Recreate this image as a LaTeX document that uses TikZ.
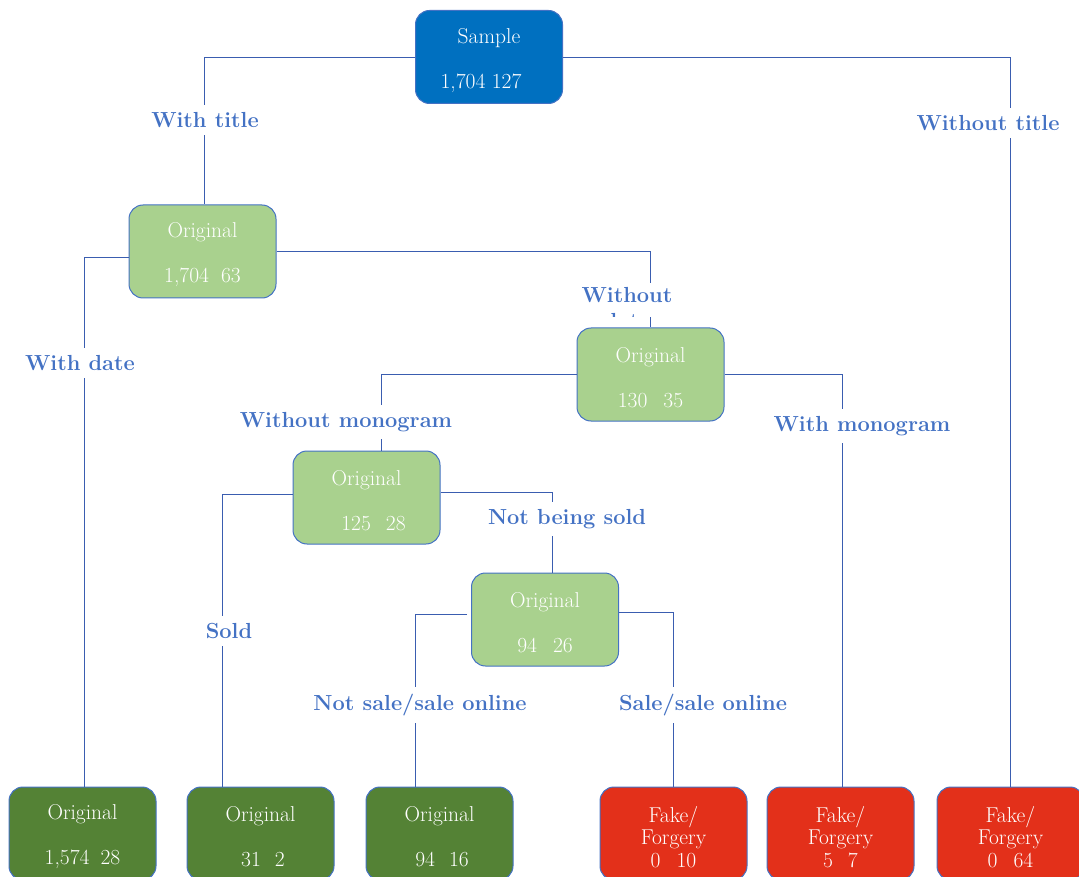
\documentclass[tikz,border=0pt]{standalone}
\usetikzlibrary{positioning}
\definecolor{rootblue}{HTML}{0070C0}
\definecolor{lightgreen}{HTML}{A9D18E}
\definecolor{darkgreen}{HTML}{548235}
\definecolor{fakered}{HTML}{E3301A}
\definecolor{edgeblue}{HTML}{4472C4}
\definecolor{linkblue}{HTML}{3A5DB0}
\definecolor{labelblue}{HTML}{4472C4}
\begin{document}
\begin{tikzpicture}[x=1pt,y=-1pt,
  box/.style={draw=edgeblue,line width=1pt,rounded corners=14pt,
    minimum width=147pt,minimum height=93pt,inner sep=0pt},
  boxtext/.style={text=white,align=center,inner sep=0pt,yshift=-3.5pt,
    font=\fontsize{21.5}{26}\selectfont},
  rootbox/.style={box,fill=rootblue},
  midbox/.style={box,fill=lightgreen},
  leafbox/.style={box,fill=darkgreen},
  fakebox/.style={box,fill=fakered},
  link/.style={draw=linkblue,line width=0.9pt},
  lab/.style={fill=white,text=labelblue,inner xsep=3pt,inner ysep=7pt,
    font=\bfseries\fontsize{21.8}{26}\selectfont}]
\useasboundingbox (0,0) rectangle (1079,877);
\clip (0,0) rectangle (1079,877);

% decision nodes
\node[rootbox] (s)  at (489,57)      {};
\node[midbox]  (o1) at (202.5,251.5) {};
\node[midbox]  (o2) at (650.5,374.5) {};
\node[midbox]  (o3) at (366.5,497.5) {};
\node[midbox]  (o4) at (545,619.5)   {};

% leaves
\node[leafbox] (b1) at (82.5,833.5)   {};
\node[leafbox] (b2) at (260.5,833.5)  {};
\node[leafbox] (b3) at (439.5,833.5)  {};
\node[fakebox] (f1) at (673.5,833.5)  {};
\node[fakebox] (f2) at (840.5,833.5)  {};
\node[fakebox] (f3) at (1010.5,833.5) {};

% box contents
\node[boxtext] (ts)  at (s)  {Sample\\[19pt]1,704 127\hspace*{16pt}};
\node[boxtext] (to1) at (o1) {Original\\[19pt]1,704\hspace{12pt}63};
\node[boxtext] (to2) at (o2) {Original\\[19pt]130\hspace{16pt}35};
\node[boxtext] (to3) at (o3) {Original\\[19pt]\hspace*{14pt}125\hspace{15pt}28};
\node[boxtext] (to4) at (o4) {Original\\[19pt]94\hspace{16pt}26};
\node[boxtext] (tb1) at (b1) {Original\\[19pt]1,574\hspace{11pt}28};
\node[boxtext] (tb2) at (b2) {Original\\[19pt]\hspace*{5pt}31\hspace{14pt}2};
\node[boxtext] (tb3) at (b3) {Original\\[19pt]\hspace*{5pt}94\hspace{14pt}16};
\node[boxtext,font=\fontsize{21.5}{22.5}\selectfont] (tf1) at (f1) {Fake/\\Forgery\\0\hspace{16pt}10};
\node[boxtext,font=\fontsize{21.5}{22.5}\selectfont] (tf2) at (f2) {Fake/\\Forgery\\5\hspace{15pt}7};
\node[boxtext,font=\fontsize{21.5}{22.5}\selectfont] (tf3) at (f3) {Fake/\\Forgery\\0\hspace{16pt}64};

% connectors
\path[link] (s.west) -| ([xshift=1.5pt]o1.north);
\path[link] (s.east) -| (f3.north);
\path[link] ([yshift=-5.5pt]o1.west) -| ([xshift=1.5pt]b1.north);
\path[link] (o1.east) -| (o2.north);
\path[link] (o2.west) -| ([xshift=14.5pt]o3.north);
\path[link] (o2.east) -| ([xshift=1.5pt]f2.north);
\path[link] ([yshift=3.5pt]o3.west) -| ([xshift=-38.5pt]b2.north);
\path[link] ([yshift=5.5pt]o3.east) -| ([xshift=7pt]o4.north);
\path[link] ([yshift=5.5pt,xshift=-4pt]o4.west) -| ([xshift=-24.5pt]b3.north);
\path[link] ([yshift=7.5pt]o4.east) -| (f1.north);

% branch labels
\node[lab] (l1) at (205,120)  {With title};
\node[lab] (l2) at (988,123)  {Without title};
\node[lab] (l3) at (80,363)   {With date};
\node[lab] (l5) at (346,422)  {Without monogram};
\node[lab] (l6) at (862,426)  {With monogram};
\node[lab] (l7) at (229,631)  {Sold};
\node[lab] (l8) at (567,519)  {Not being sold};
\node[lab] (l9) at (420,705)  {Not sale/sale online};
\node[lab] (l10) at (703,705) {Sale/sale online};

% label box whose second line is cut by the box edge
\begin{scope}
  \clip (578,283) rectangle (684,317);
  \fill[white] (578,283) rectangle (684,317);
  \node[text=labelblue,align=center,inner sep=0pt,anchor=north,
    font=\bfseries\fontsize{21.8}{26}\selectfont] (l4) at (627,287) {Without\\date};
\end{scope}
\end{tikzpicture}
\end{document}
